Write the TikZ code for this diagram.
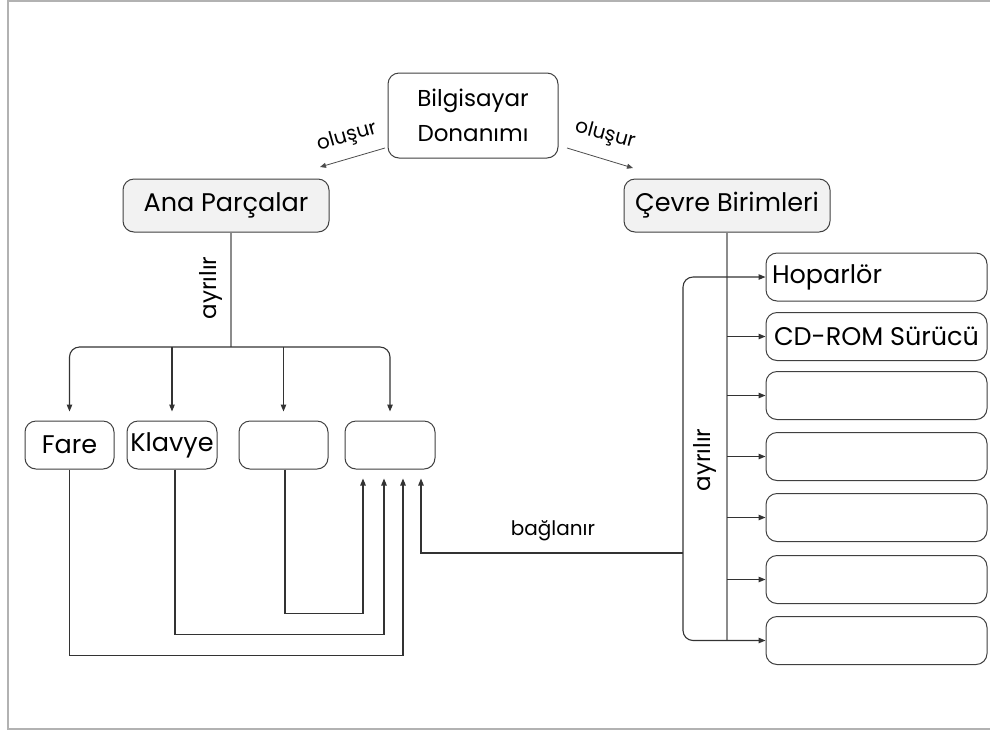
\documentclass[tikz,border=0pt]{standalone}
\usepackage{fontspec}
\setmainfont{Poppins}
\usetikzlibrary{arrows.meta}
\begin{document}
\begin{tikzpicture}[x=1pt,y=-1pt,
  box/.style={draw=black!75, line width=1pt, rounded corners=11pt, fill=white, inner sep=0pt,
    minimum height=48pt, align=center, text=black, font=\fontsize{25.5}{30}\selectfont},
  con/.style={draw=black!80, line width=1.1pt},
  gcon/.style={draw=black!45, line width=1.1pt},
  tip/.style={-{Triangle[length=7pt,width=5.5pt]}},
  tips/.style={{Triangle[length=7pt,width=5.5pt]}-{Triangle[length=7pt,width=5.5pt]}},
  lbl/.style={inner sep=0pt, text=black, font=\fontsize{20}{22}\selectfont}]
\useasboundingbox (0,0) rectangle (990,732);
\draw[black!30, line width=2pt] (995,1) -- (8,1) -- (8,729) -- (995,729);

% top
\node[box, minimum width=170pt, minimum height=85pt, font=\fontsize{23}{35}\selectfont] (bd) at (473,115.5) {Bilgisayar\\Donanımı};
\node[box, fill=black!5, minimum width=206pt, minimum height=53pt] (ana) at (226,205.5) {Ana Parçalar};
\node[box, fill=black!5, minimum width=206pt, minimum height=53pt] (cev) at (727,205.5) {Çevre Birimleri};

\coordinate (o1s) at (385,148);
\coordinate (o1e) at (320,167);
\coordinate (o2s) at (567,148);
\coordinate (o2e) at (633,168);
\draw[draw=black!70, line width=0.8pt, -{Triangle[length=6pt,width=5pt]}] (o1s) -- (o1e);
\draw[draw=black!70, line width=0.8pt, -{Triangle[length=6pt,width=5pt]}] (o2s) -- (o2e);
\node[lbl, rotate=16] (l1) at (347,137) {oluşur};
\node[lbl, rotate=-15] (l2) at (605,135) {oluşur};

% left group
\node[box, minimum width=89pt] (fare) at (69.5,445) {Fare};
\node[box, minimum width=90pt] (klv) at (172,445) {Klavye};
\node[box, minimum width=89pt] (k3) at (283.5,445) {};
\node[box, minimum width=90pt] (k4) at (390,445) {};

\coordinate (bl) at (231,347);
\draw[gcon] (ana.south -| bl) -- (bl);
\node[lbl, rotate=90, font=\fontsize{23}{25}\selectfont] (ay1) at (211,288) {ayrılır};
\draw[con, tips, rounded corners=10pt, shorten <=9pt, shorten >=9pt]
  (fare.north) -- (fare.north |- bl) -- (k4.north |- bl) -- (k4.north);
\draw[con, tip, shorten >=9pt] (klv.north |- bl) -- (klv.north);
\draw[con, tip, shorten >=9pt] (k3.north |- bl) -- (k3.north);

\draw[con, tip, shorten >=9pt] (fare.south) -- ++(0,186) -| ([xshift=13pt]k4.south);
\draw[con, tip, shorten >=9pt] ([xshift=3pt]klv.south) -- ++(0,165) -| ([xshift=-6pt]k4.south);
\draw[con, tip, shorten >=9pt] ([xshift=1.5pt]k3.south) -- ++(0,144) -| ([xshift=-27pt]k4.south);

% right group
\node[box, minimum width=221pt, text width=209pt, align=left] (r1) at (876.5,277) {Hoparlör};
\node[box, minimum width=221pt] (r2) at (876.5,336.5) {CD-ROM Sürücü};
\node[box, minimum width=221pt] (r3) at (876.5,395.5) {};
\node[box, minimum width=221pt] (r4) at (876.5,456.5) {};
\node[box, minimum width=221pt] (r5) at (876.5,517.5) {};
\node[box, minimum width=221pt] (r6) at (876.5,579.5) {};
\node[box, minimum width=221pt] (r7) at (876.5,640.5) {};

\coordinate (br) at (683,553);
\draw[gcon] (cev.south) -- (cev.south |- r7.west);
\draw[con, tips, rounded corners=10pt] (r1.west) -| (br) |- (r7.west);
\foreach \r in {r2,r3,r4,r5,r6}
  \draw[con, tip] (cev.south |- \r.west) -- (\r.west);
\node[lbl, rotate=90, font=\fontsize{23}{25}\selectfont] (ay2) at (705,460) {ayrılır};

\draw[con, tip, shorten >=9pt] (br) -| ([xshift=31pt]k4.south);
\node[lbl] (bg) at (553,531) {bağlanır};
\end{tikzpicture}
\end{document}
